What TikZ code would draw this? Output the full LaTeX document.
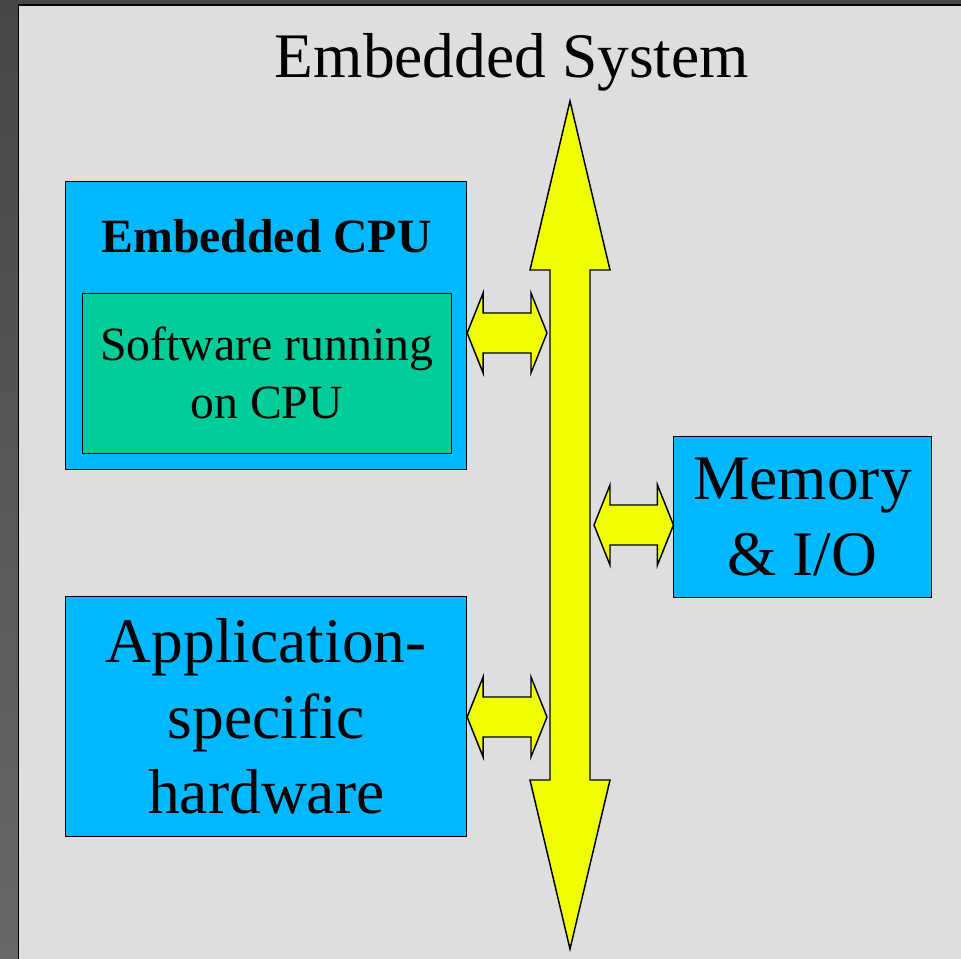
\documentclass[tikz,border=0pt]{standalone}
\usepackage{fontspec}
\setmainfont{Liberation Serif}
\usetikzlibrary{calc}

% double headed link between two named points
\newcommand{\linkarrow}[2]{%
\draw [linkarrow] (#1) -- ($(#1)+(16,-40)$) -- ($(#1)+(16,-20)$) -- ($(#2)+(-16,-20)$) -- ($(#2)+(-16,-40)$) -- (#2) -- ($(#2)+(-16,40)$) -- ($(#2)+(-16,20)$) -- ($(#1)+(16,20)$) -- ($(#1)+(16,40)$) -- cycle ;}

\begin{document}
\begin{tikzpicture}[x=0.75pt,y=0.75pt,yscale=-1,xscale=1,
  box/.style={draw={rgb, 255:red, 0; green, 0; blue, 0 }, line width=0.75, inner sep=0pt, align=center},
  cpubox/.style={box, fill={rgb, 255:red, 0; green, 184; blue, 255 }},
  swbox/.style={box, fill={rgb, 255:red, 0; green, 204; blue, 153 }},
  linkarrow/.style={draw={rgb, 255:red, 0; green, 0; blue, 0 }, line width=1.1, line join=miter, fill={rgb, 255:red, 240; green, 255; blue, 0 }},
  bigtext/.style={font=\fontsize{47.6}{56.5}\selectfont},
  midtext/.style={font=\fontsize{35.8}{43.5}\selectfont}]
\useasboundingbox (0,0) rectangle (961,959);
\clip (0,0) rectangle (961,959);

%Background
\shade [top color={rgb, 255:red, 71; green, 71; blue, 71 }, bottom color={rgb, 255:red, 104; green, 104; blue, 104 }] (0,0) rectangle (961,959);
%Panel
\draw [line width=1.2, fill={rgb, 255:red, 222; green, 222; blue, 222 }] (18.3,5.3) rectangle (1000,1000);

% Text Node
\node [bigtext, anchor=base] (title) at (512,78) {Embedded System};

%Boxes
\node [cpubox, minimum width=300.5pt, minimum height=215.5pt] (cpu) at (266.3,325.5) {};
\node [midtext, anchor=base] (cpulabel) at (266.5,252.7) {\bfseries Embedded CPU};
\node [swbox, midtext, minimum width=276.5pt, minimum height=120pt] (sw) at (266.7,373.3) {Software running\\on CPU};
\node [cpubox, bigtext, minimum width=300.5pt, minimum height=179.3pt] (ash) at (266.3,716.5) {Application-\\specific\\hardware};
\node [cpubox, bigtext, minimum width=192.8pt, minimum height=120pt] (mem) at (802.5,517) {Memory\\\& I/O};

%Bus
\coordinate (bustop) at (570,101);
\coordinate (busbot) at (570,949);
\draw [linkarrow] (bustop) -- ($(bustop)+(40,169)$) -- ($(bustop)+(20,169)$) -- ($(busbot)+(20,-169)$) -- ($(busbot)+(40,-169)$) -- (busbot) -- ($(busbot)+(-40,-169)$) -- ($(busbot)+(-20,-169)$) -- ($(bustop)+(-20,169)$) -- ($(bustop)+(-40,169)$) -- cycle ;
\coordinate (busW) at ($(bustop)+(-23,0)$);
\coordinate (busE) at ($(bustop)+(24,0)$);

%Links
\coordinate (cpuport) at (cpu.east |- 0,333);
\coordinate (buscpu) at (busW |- cpuport);
\coordinate (ashport) at (ash.east |- 0,717);
\coordinate (busash) at (busW |- ashport);
\coordinate (memport) at (mem.west |- 0,525);
\coordinate (busmem) at (busE |- memport);
\linkarrow{cpuport}{buscpu}
\linkarrow{ashport}{busash}
\linkarrow{busmem}{memport}

\end{tikzpicture}
\end{document}
